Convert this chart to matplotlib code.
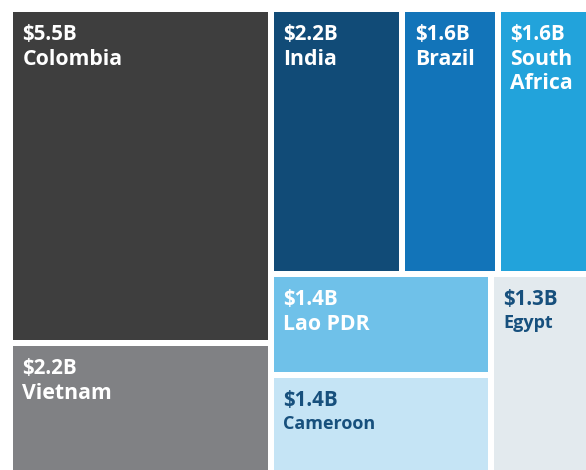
import matplotlib
matplotlib.use('Agg')
import matplotlib.pyplot as plt
from matplotlib.patches import Rectangle

# funding by country, billions USD
countries = ['Colombia', 'Vietnam', 'India', 'Brazil', 'South\nAfrica',
             'Lao PDR', 'Cameroon', 'Egypt']
values = [5.5, 2.2, 2.2, 1.6, 1.6, 1.4, 1.4, 1.3]
colors = ['#3e3e3e', '#808184', '#114b77', '#1274b9', '#22a3db',
          '#6fc1e9', '#c5e4f5', '#e3eaee']
text_colors = ['white'] * 6 + ['#17507d'] * 2
small_names = ['Cameroon', 'Egypt']

# 'h' splits left to right, 'v' splits top to bottom
layout = ('h', [('v', [0, 1]),
                ('v', [('h', [2, 3, 4]),
                       ('h', [('v', [5, 6]), 7])])])


def node_size(node):
    if isinstance(node, int):
        return values[node]
    return sum(node_size(c) for c in node[1])


def place(node, x, y, w, h, out):
    if isinstance(node, int):
        out[node] = (x, y, w, h)
        return
    direction, children = node
    total = node_size(node)
    pos = 0.0
    for c in children:
        frac = node_size(c) / total
        if direction == 'h':
            place(c, x + pos * w, y, frac * w, h, out)
        else:
            place(c, x, y + pos * h, w, frac * h, out)
        pos += frac


rects = {}
place(layout, 10, 9, 583, 467, rects)
gap = 3

fig = plt.figure(figsize=(5.86, 4.70), dpi=100)
ax = fig.add_axes([0, 0, 1, 1])
ax.set_xlim(0, 586)
ax.set_ylim(470, 0)
ax.axis('off')

for i, name in enumerate(countries):
    x, y, w, h = rects[i]
    ax.add_patch(Rectangle((x + gap, y + gap), w - 2 * gap, h - 2 * gap,
                           facecolor=colors[i], edgecolor='none'))
    left = x + gap + 9.5
    top = y + gap
    ax.text(left, top + 28, '${:.1f}B'.format(values[i]),
            color=text_colors[i], fontsize=14.8, fontweight='bold',
            family='Open Sans', va='baseline', ha='left')
    small = name in small_names
    for j, line in enumerate(name.split('\n')):
        ax.text(left, top + (51 if small else 53) + 24 * j, line,
                color=text_colors[i], fontsize=13 if small else 15.3,
                fontweight='bold', family='Open Sans',
                va='baseline', ha='left')

fig.savefig('out.png', dpi=100)
